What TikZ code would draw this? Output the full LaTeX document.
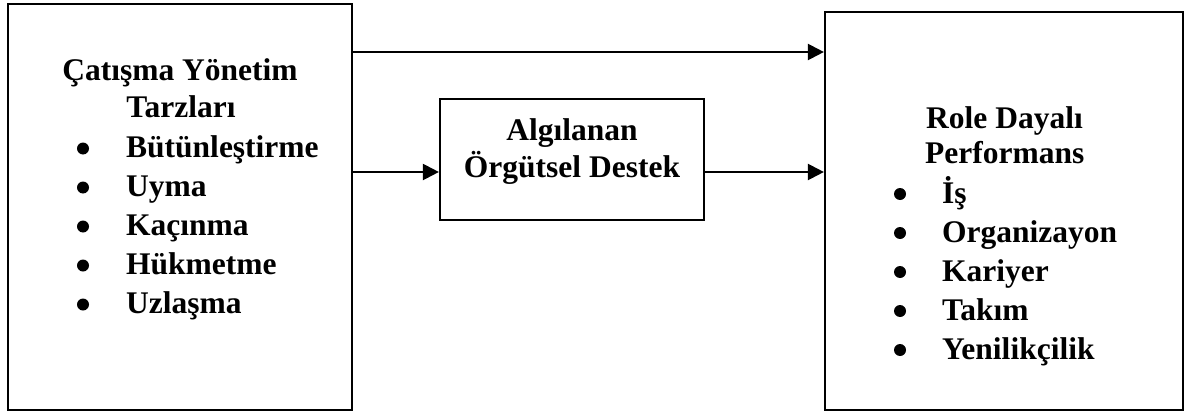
\documentclass[tikz,border=0pt]{standalone}
\usepackage{fontspec}
\setmainfont{Liberation Serif}
\usetikzlibrary{arrows.meta}
\tikzset{
  box/.style={draw, line width=2.2pt, rectangle, inner sep=0pt},
  lbl/.style={inner sep=0pt, font=\fontsize{31.5}{36}\selectfont\bfseries},
  dot/.style={circle, fill, inner sep=0pt, minimum size=12pt},
  arr/.style={line width=2.2pt, -{Triangle[length=16pt,width=16pt]}}
}
\begin{document}
\begin{tikzpicture}[x=1pt,y=-1pt]
\useasboundingbox (0,0) rectangle (1185,412);

% three boxes
\node[box, minimum width=344pt, minimum height=406pt] (left) at (180,207) {};
\node[box, minimum width=264pt, minimum height=121pt] (mid) at (572,159.5) {};
\node[box, minimum width=358pt, minimum height=398pt] (right) at (1004,211) {};

% left box text
\node[lbl, anchor=base] (lt1) at (180,81) {Çatışma Yönetim};
\node[lbl, anchor=base] (lt2) at (181,117) {Tarzları};
\foreach \t [count=\i] in {Bütünleştirme,Uyma,Kaçınma,Hükmetme,Uzlaşma}{
  \pgfmathsetmacro{\yy}{157+39*(\i-1)}
  \node[dot] (lb\i) at (83,\yy-8.5) {};
  \node[lbl, anchor=base west] (li\i) at (126,\yy) {\t};
}

% middle box text
\node[lbl, anchor=base] (mt1) at (572,140) {Algılanan};
\node[lbl, anchor=base] (mt2) at (572,177) {Örgütsel Destek};

% right box text
\node[lbl, anchor=base west] (rt1) at (926,128) {Role Dayalı};
\node[lbl, anchor=base west] (rt2) at (925,163) {Performans};
\foreach \t [count=\i] in {İş,Organizayon,Kariyer,Takım,Yenilikçilik}{
  \pgfmathsetmacro{\yy}{203+39*(\i-1)}
  \node[dot] (rb\i) at (900,\yy-9) {};
  \node[lbl, anchor=base west] (ri\i) at (942,\yy) {\t};
}

% connectors
\coordinate (ytop) at (0,52);
\coordinate (ymid) at (0,172);
\draw[arr] (left.east |- ytop) -- (right.west |- ytop);
\draw[arr] (left.east |- ymid) -- (mid.west |- ymid);
\draw[arr] (mid.east |- ymid) -- (right.west |- ymid);
\end{tikzpicture}
\end{document}
